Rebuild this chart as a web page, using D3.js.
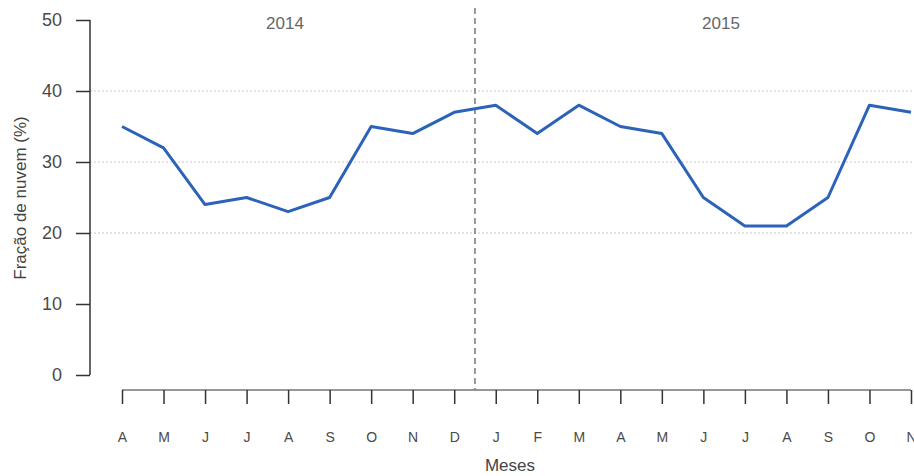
<!DOCTYPE html>
<html>
<head>
<meta charset="utf-8">
<script src="https://cdn.jsdelivr.net/npm/d3@7"></script>
<style>
	body{margin:0;background:#fff;}
	text{font-family:"Liberation Sans",Arial,sans-serif;}
</style>
</head>
<body>
<div id="chart"></div>
<script>
var months = ["A","M","J","J","A","S","O","N","D","J","F","M","A","M","J","J","A","S","O","N"];
var cloud = [35,32,24,25,23,25,35,34,37,38,34,38,35,34,25,21,21,25,38,37];
var yTicks = [0,10,20,30,40,50];
var gridTicks = [20,30,40];
var years = ["2014","2015"];

var W = 914, H = 476;
var svg = d3.select("#chart").append("svg")
	.attr("width",W)
	.attr("height",H);

var x = d3.scaleLinear().domain([0,months.length-1]).range([122,911]);
var y = d3.scaleLinear().domain([0,50]).range([375,20]);

// grid lines
svg.append("g").selectAll("line")
	.data(gridTicks).enter().append("line")
	.attr("x1",90).attr("x2",W)
	.attr("y1",function(d){return y(d)}).attr("y2",function(d){return y(d)})
	.attr("stroke","#c8c8c8")
	.attr("stroke-width",1)
	.attr("stroke-dasharray","2,2");

// y axis
var yAxis = svg.append("g")
	.attr("transform","translate(90,0)")
	.call(d3.axisLeft(y).tickValues(yTicks).tickSize(14).tickPadding(14));
yAxis.select(".domain").attr("stroke","#333").attr("stroke-width",1.5).attr("d","M0,"+y(50)+"V"+y(0));
yAxis.selectAll(".tick line").attr("stroke","#333").attr("stroke-width",1.5);
yAxis.selectAll(".tick text").attr("font-size",18).attr("fill","#4a4a4a");

// x axis
var xAxis = svg.append("g")
	.attr("transform","translate(0,390)")
	.call(d3.axisBottom(x).tickValues(d3.range(months.length)).tickSize(14).tickPadding(28)
		.tickFormat(function(i){return months[i]}));
xAxis.select(".domain").attr("stroke","#333").attr("stroke-width",1.2).attr("d","M"+x(0)+",0H"+x(months.length-1));
xAxis.selectAll(".tick line").attr("stroke","#333").attr("stroke-width",1.5);
xAxis.selectAll(".tick text").attr("font-size",14).attr("fill","#4a4a4a");

// year separator
var sep = (x(8)+x(9))/2;
svg.append("line")
	.attr("x1",sep).attr("x2",sep)
	.attr("y1",8).attr("y2",390)
	.attr("stroke","#777")
	.attr("stroke-width",1.5)
	.attr("stroke-dasharray","6,4");

svg.selectAll(".year")
	.data(years).enter().append("text")
	.attr("class","year")
	.attr("x",function(d,i){return i===0 ? 285 : 721})
	.attr("y",29)
	.attr("text-anchor","middle")
	.attr("font-size",17)
	.attr("fill","#666")
	.text(function(d){return d});

// line
var line = d3.line()
	.x(function(d,i){return x(i)})
	.y(function(d){return y(d)});

svg.append("path")
	.datum(cloud)
	.attr("d",line)
	.attr("fill","none")
	.attr("stroke","#2c63b8")
	.attr("stroke-width",3)
	.attr("stroke-linejoin","round");

// axis titles
svg.append("text")
	.attr("x",510).attr("y",471)
	.attr("text-anchor","middle")
	.attr("font-size",17)
	.attr("fill","#444")
	.text("Meses");

svg.append("text")
	.attr("transform","translate(26,198) rotate(-90)")
	.attr("text-anchor","middle")
	.attr("font-size",17)
	.attr("fill","#444")
	.text("Fração de nuvem (%)");
</script>
</body>
</html>
